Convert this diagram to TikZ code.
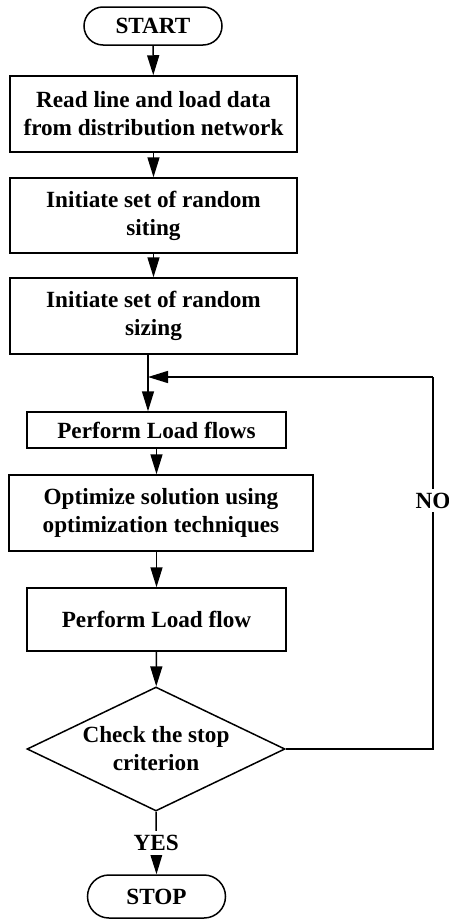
\documentclass[tikz,border=0pt]{standalone}
\usepackage{fontspec}
\setmainfont{Liberation Serif}
\usetikzlibrary{arrows.meta, shapes.geometric}

\begin{document}
\begin{tikzpicture}[x=0.5pt, y=-0.5pt, line width=0.75pt,
  every node/.style={font=\fontsize{11.6}{14}\selectfont\bfseries},
  procbox/.style={draw, rectangle, inner sep=0pt, align=center},
  terminal/.style={draw, rectangle, inner sep=0pt, minimum width=69pt},
  decision/.style={draw, diamond, inner sep=0pt, minimum width=129pt, minimum height=62pt},
  flow/.style={-{Triangle[length=10pt, width=6pt]}}]
  \useasboundingbox (0,0) rectangle (449,921);

  % Terminals
  \node[terminal, minimum height=19pt, rounded corners=9.5pt] (start) at (153,26) {START};
  \node[terminal, minimum height=21.5pt, rounded corners=10.75pt] (stop) at (156.5,896.5) {STOP};

  % Process boxes
  \node[procbox, minimum width=143.5pt, minimum height=38pt] (readdata) at (153.5,114)
    {Read line and load data\\from distribution network};
  \node[procbox, minimum width=143.5pt, minimum height=37.5pt] (siting) at (153.5,215.5)
    {Initiate set of random\\siting};
  \node[procbox, minimum width=143.5pt, minimum height=38pt] (sizing) at (153.5,316)
    {Initiate set of random\\sizing};
  \node[procbox, minimum width=129.5pt, minimum height=18pt] (flows) at (156.5,430)
    {Perform Load flows};
  \node[procbox, minimum width=152pt, minimum height=38pt] (optimize) at (161,513)
    {Optimize solution using\\optimization techniques};
  \node[procbox, minimum width=129.5pt, minimum height=31.5pt] (flow) at (156.5,619.5)
    {Perform Load flow};

  % Decision
  \node[decision, label={[align=center]center:Check the stop\\criterion}] (check) at (156,749) {};

  % Loop points
  \coordinate (loopcorner) at (433,377);
  \coordinate (merge) at (148,377);

  % Connectors
  \draw[flow] (start) -- (readdata);
  \draw[flow] (readdata) -- (siting);
  \draw[flow] (siting) -- (sizing);
  \draw[flow] (sizing.south -| merge) -- (merge |- flows.north);
  \draw[flow] (flows.south) -- (flows.south |- optimize.north);
  \draw[flow] (flow.north |- optimize.south) -- (flow.north);
  \draw[flow] (flow) -- (check);
  \draw[flow] (check.south) -- node[fill=white, inner sep=2pt] {YES} (stop.north);
  \draw (check.east) -| node[pos=0.834, fill=white, inner sep=2pt] {NO} (loopcorner);
  \draw[flow] (loopcorner) -- (merge);
\end{tikzpicture}
\end{document}
